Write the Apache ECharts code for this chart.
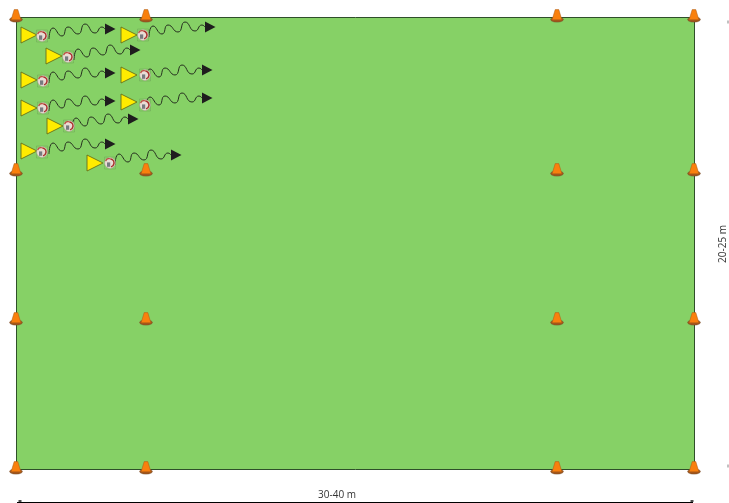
<!DOCTYPE html>
<html><head><meta charset="utf-8">
<style>html,body{margin:0;padding:0;background:#fff}#c{width:729px;height:503px}</style>
<script src="https://cdn.jsdelivr.net/npm/echarts@6/dist/echarts.min.js"></script>
</head><body><div id="c"></div>
<script>
const fieldX = [16.5, 694.5];
const fieldY = [17.5, 469.5];
const coneX = [16, 146, 557, 694];
const coneY = [16, 170, 319, 468];
const drillX = [21, 46, 21, 21, 47, 21, 121, 121, 121, 87];
const drillY = [35, 56, 80, 108, 126, 151, 35, 75, 102, 163];
const ballX = [42, 68, 43, 43, 69, 42, 143, 145, 145, 110];
const ballY = [36, 57, 81, 108, 126, 152, 35, 75, 105, 163];
const arrowX = [105, 130, 105, 105, 128, 105, 205, 202, 202, 171];
const arrowY = [29, 50, 73, 101, 119, 144, 27, 70, 98, 155];
const squiggleDX = [-56, -52, -43, -37, -27, -20, -10, -3, 0];
const squiggleDY = [10, -1, 7, -2, 5, -5, 4, -2, 0];
const widthLabel = '30-40 m';
const heightLabel = '20-25 m';
const widthLabelAt = [337, 495];
const heightLabelAt = [723, 244];
const bottomRuleX = [17, 693];
const bottomRuleY = 502.5;
const ruleTicks = [[20, 501], [692, 501]];
const sideTicks = [[728, 22], [728, 466]];

const cones = [];
coneY.forEach(y => coneX.forEach(x => cones.push([x, y])));
const drills = drillX.map((x, i) => [x, drillY[i]]);
const balls = ballX.map((x, i) => [x, ballY[i]]);
const arrows = arrowX.map((x, i) => [x, arrowY[i]]);

const chart = echarts.init(document.getElementById('c'), null, {renderer: 'canvas'});

const squiggles = arrows.map(a => ({
  type: 'line', smooth: 0.6, symbol: 'none', silent: true, z: 5,
  lineStyle: {color: '#26301f', width: 1},
  data: squiggleDX.map((dx, k) => [a[0] + dx, a[1] + squiggleDY[k]])
}));

const option = {
  animation: false,
  grid: {left: 0, right: 0, top: 0, bottom: 0},
  xAxis: {type: 'value', min: 0, max: 729, show: false},
  yAxis: {type: 'value', min: 0, max: 503, inverse: true, show: false},
  series: [
    {type: 'custom', coordinateSystem: 'cartesian2d', silent: true, z: 1, clip: false,
     data: [[fieldX[0], fieldY[0], fieldX[1], fieldY[1]]],
     renderItem: (p, api) => {
       const a = api.coord([api.value(0), api.value(1)]);
       const b = api.coord([api.value(2), api.value(3)]);
       return {type: 'rect', shape: {x: a[0], y: a[1], width: b[0] - a[0], height: b[1] - a[1]},
         style: {fill: '#86d166', stroke: '#2f4f2a', lineWidth: 1}};
     }},
    ...squiggles,
    {type: 'custom', coordinateSystem: 'cartesian2d', silent: true, z: 6, clip: false,
     data: arrows,
     renderItem: (p, api) => {
       const c = api.coord([api.value(0), api.value(1)]);
       return {type: 'polygon', shape: {points: [[c[0], c[1] - 5.5], [c[0] + 10.5, c[1]], [c[0], c[1] + 5.5]]},
         style: {fill: '#1f1d1e'}};
     }},
    {type: 'custom', coordinateSystem: 'cartesian2d', silent: true, z: 6, clip: false,
     data: drills,
     renderItem: (p, api) => {
       const c = api.coord([api.value(0), api.value(1)]);
       return {type: 'polygon', shape: {points: [[c[0], c[1] - 8], [c[0] + 16, c[1]], [c[0], c[1] + 8]]},
         style: {fill: '#ffec00', stroke: '#66701a', lineWidth: 0.9}};
     }},
    {type: 'custom', coordinateSystem: 'cartesian2d', silent: true, z: 7, clip: false,
     data: balls,
     renderItem: (p, api) => {
       const c = api.coord([api.value(0), api.value(1)]);
       return {type: 'group', children: [
         {type: 'rect', shape: {x: c[0] - 5.5, y: c[1] - 6, width: 11, height: 12},
          style: {fill: 'rgba(0,0,0,0)', stroke: 'rgba(90,130,80,0.45)', lineWidth: 0.6}},
         {type: 'circle', shape: {cx: c[0], cy: c[1], r: 5.4},
          style: {fill: '#e9ddd6', stroke: '#a99a90', lineWidth: 0.5}},
         {type: 'arc', shape: {cx: c[0], cy: c[1], r: 4, startAngle: -1.4, endAngle: 1.3},
          style: {fill: 'none', stroke: '#a9302a', lineWidth: 1.5}},
         {type: 'arc', shape: {cx: c[0] - 1, cy: c[1] - 1, r: 3.4, startAngle: 3.4, endAngle: 5.3},
          style: {fill: 'none', stroke: '#bd4a3e', lineWidth: 1.2}},
         {type: 'rect', shape: {x: c[0] - 3, y: c[1] - 0.6, width: 3.2, height: 4.4},
          style: {fill: '#777a80'}}
       ]};
     }},
    {type: 'custom', coordinateSystem: 'cartesian2d', silent: true, z: 8, clip: false,
     data: cones,
     renderItem: (p, api) => {
       const c = api.coord([api.value(0), api.value(1)]);
       const x = c[0], y = c[1];
       return {type: 'group', children: [
         {type: 'ellipse', shape: {cx: x, cy: y + 3.5, rx: 6.4, ry: 2.6},
          style: {fill: '#a4561a', stroke: '#6f4a2a', lineWidth: 0.5}},
         {type: 'polygon', shape: {points: [[x - 1.8, y - 6.4], [x + 1.8, y - 6.4], [x + 4.9, y + 3.8], [x - 4.9, y + 3.8]]},
          style: {fill: '#f9800d', stroke: '#a85a18', lineWidth: 0.5}}
       ]};
     }},
    {type: 'line', symbol: 'none', silent: true, z: 4, clip: false,
     lineStyle: {color: '#000', width: 1},
     data: bottomRuleX.map(x => [x, bottomRuleY])},
    {type: 'scatter', silent: true, z: 4, symbol: 'rect', symbolSize: [3, 2], clip: false,
     itemStyle: {color: '#222'}, data: ruleTicks},
    {type: 'scatter', silent: true, z: 4, symbol: 'rect', symbolSize: [1.5, 3],
     itemStyle: {color: '#999'}, data: sideTicks},
    {type: 'custom', coordinateSystem: 'cartesian2d', silent: true, z: 9, clip: false,
     data: [[widthLabelAt[0], widthLabelAt[1], 0], [heightLabelAt[0], heightLabelAt[1], 1]],
     renderItem: (p, api) => {
       const c = api.coord([api.value(0), api.value(1)]);
       const vertical = api.value(2) === 1;
       return {type: 'text', x: c[0], y: c[1], rotation: vertical ? Math.PI / 2 : 0,
         style: {text: vertical ? heightLabel : widthLabel, fill: '#333',
           font: '10px "Open Sans"', align: 'center', verticalAlign: 'middle'}};
     }}
  ]
};
chart.setOption(option);
</script></body></html>
